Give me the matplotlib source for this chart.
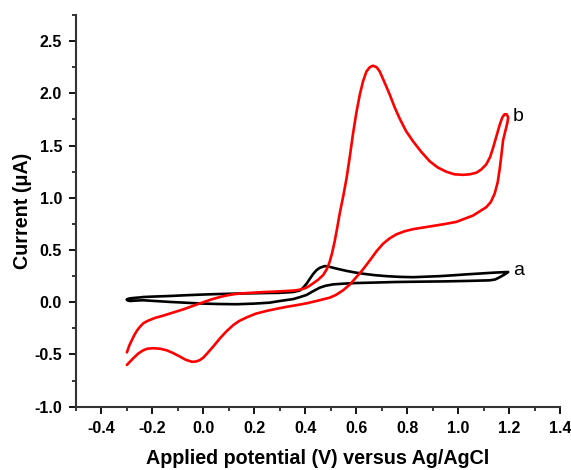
import matplotlib
matplotlib.use("Agg")
import matplotlib.pyplot as plt
from matplotlib.ticker import MultipleLocator

plt.rcParams['font.family'] = ['Liberation Sans', 'DejaVu Sans']

# Curve b (red): forward scan then reverse scan
x_b = [-0.30, -0.29, -0.28, -0.27, -0.26, -0.249, -0.235, -0.22, -0.21, -0.19, -0.16, -0.131, -0.10,
       -0.075, -0.053, -0.03, -0.01, 0.01, 0.035, 0.065, 0.091, 0.12, 0.15, 0.195, 0.24, 0.28, 0.326,
       0.355, 0.378, 0.40, 0.415, 0.43, 0.45, 0.47, 0.485, 0.496, 0.505, 0.515, 0.525, 0.535, 0.55,
       0.562, 0.575, 0.587, 0.60, 0.614, 0.627, 0.64, 0.653, 0.666, 0.68, 0.692, 0.71, 0.731, 0.75,
       0.77, 0.795, 0.823, 0.855, 0.888, 0.92, 0.953, 0.985, 1.019, 1.045, 1.071, 1.09, 1.11, 1.125,
       1.137, 1.15, 1.163, 1.173, 1.182, 1.19, 1.196,
       1.193, 1.186, 1.176, 1.17, 1.163, 1.155, 1.143, 1.128, 1.11, 1.084, 1.058, 1.025, 0.993, 0.95,
       0.90, 0.86, 0.823, 0.79, 0.757, 0.73, 0.705, 0.68, 0.653, 0.625, 0.60, 0.575, 0.548, 0.52,
       0.496, 0.457, 0.405, 0.365, 0.326, 0.288, 0.248, 0.205, 0.169, 0.14, 0.117, 0.09, 0.065, 0.04,
       0.015, 0.0, -0.015, -0.03, -0.045, -0.07, -0.092, -0.12, -0.144, -0.17, -0.197, -0.22,
       -0.236, -0.255, -0.275, -0.30]
y_b = [-0.48, -0.41, -0.36, -0.31, -0.27, -0.235, -0.20, -0.18, -0.17, -0.15, -0.13, -0.108, -0.085,
       -0.065, -0.045, -0.025, -0.008, 0.01, 0.03, 0.05, 0.065, 0.077, 0.085, 0.092, 0.098, 0.102, 0.108,
       0.112, 0.12, 0.135, 0.155, 0.18, 0.215, 0.26, 0.32, 0.39, 0.47, 0.58, 0.71, 0.85, 1.03,
       1.19, 1.40, 1.61, 1.81, 1.99, 2.12, 2.21, 2.25, 2.265, 2.25, 2.21, 2.11, 1.99, 1.87,
       1.76, 1.64, 1.54, 1.44, 1.35, 1.29, 1.25, 1.225, 1.22, 1.225, 1.24, 1.27, 1.32, 1.39,
       1.48, 1.59, 1.70, 1.77, 1.80, 1.80, 1.77,
       1.72, 1.65, 1.55, 1.42, 1.28, 1.15, 1.04, 0.96, 0.91, 0.87, 0.83, 0.80, 0.77, 0.75,
       0.73, 0.715, 0.70, 0.68, 0.65, 0.61, 0.56, 0.49, 0.40, 0.31, 0.24, 0.17, 0.114, 0.07,
       0.044, 0.02, -0.01, -0.028, -0.044, -0.062, -0.083, -0.11, -0.146, -0.18, -0.219, -0.28, -0.346, -0.42,
       -0.49, -0.53, -0.555, -0.568, -0.57, -0.55, -0.52, -0.485, -0.46, -0.445, -0.44, -0.445,
       -0.46, -0.49, -0.536, -0.60]

# Curve a (black)
x_a = [-0.30, -0.295, -0.288, -0.27, -0.25, -0.236, -0.20, -0.131, -0.06, 0.0, 0.065, 0.13, 0.20,
       0.26, 0.30, 0.352, 0.378, 0.39, 0.405, 0.418, 0.43, 0.443, 0.457, 0.476, 0.49, 0.509, 0.535,
       0.562, 0.595, 0.627, 0.67, 0.718, 0.77, 0.823, 0.875, 0.927, 0.98, 1.032, 1.085, 1.137, 1.17,
       1.196,
       1.185, 1.163, 1.145, 1.124, 1.05, 0.953, 0.85, 0.757, 0.68, 0.60, 0.55, 0.509, 0.48, 0.457,
       0.43, 0.405, 0.38, 0.352, 0.30, 0.26, 0.20, 0.13, 0.065, 0.0, -0.065, -0.131, -0.19, -0.236,
       -0.265, -0.288, -0.298, -0.30]
y_a = [0.025, 0.033, 0.037, 0.042, 0.046, 0.05, 0.054, 0.06, 0.068, 0.074, 0.079, 0.083, 0.086,
       0.089, 0.09, 0.098, 0.112, 0.135, 0.178, 0.225, 0.268, 0.305, 0.33, 0.346, 0.343, 0.33, 0.315,
       0.30, 0.285, 0.273, 0.26, 0.25, 0.243, 0.24, 0.245, 0.25, 0.258, 0.267, 0.275, 0.283, 0.287,
       0.29,
       0.27, 0.24, 0.218, 0.21, 0.205, 0.20, 0.197, 0.194, 0.189, 0.184, 0.178, 0.171, 0.158, 0.14,
       0.105, 0.07, 0.05, 0.03, 0.012, -0.004, -0.013, -0.019, -0.017, -0.013, -0.005, 0.003, 0.012, 0.019,
       0.016, 0.012, 0.018, 0.025]

fig = plt.figure(figsize=(5.71, 4.70), dpi=100)
ax = fig.add_axes([0.133, 0.1347, 0.848, 0.8333])

ax.plot(x_a, y_a, color='black', lw=1.9, solid_joinstyle='round', solid_capstyle='round')
ax.plot(x_b, y_b, color='#ff0000', lw=1.9, solid_joinstyle='round', solid_capstyle='round')

ax.text(1.215, 0.30, 'a', fontsize=14, ha='left', va='center')
ax.text(1.215, 1.78, 'b', fontsize=14, ha='left', va='center')

ax.set_xlim(-0.5, 1.4)
ax.set_ylim(-1.0, 2.75)
ax.xaxis.set_minor_locator(MultipleLocator(0.1))
ax.yaxis.set_minor_locator(MultipleLocator(0.25))
ax.set_xticks([-0.4, -0.2, 0.0, 0.2, 0.4, 0.6, 0.8, 1.0, 1.2, 1.4])
ax.set_xticklabels(['-0.4', '-0.2', '0.0', '0.2', '0.4', '0.6', '0.8', '1.0', '1.2', '1.4'])
ax.set_yticks([-1.0, -0.5, 0.0, 0.5, 1.0, 1.5, 2.0, 2.5])
ax.set_yticklabels(['-1.0', '-0.5', '0.0', '0.5', '1.0', '1.5', '2.0', '2.5'])

for s in ['top', 'right']:
    ax.spines[s].set_visible(False)
for s in ['left', 'bottom']:
    ax.spines[s].set_linewidth(1.5)
    ax.spines[s].set_color('#333333')

ax.tick_params(which='major', direction='out', length=5, width=1.3, labelsize=11.5, pad=5)
ax.tick_params(which='minor', direction='out', length=3, width=1.1)
for lab in ax.get_xticklabels() + ax.get_yticklabels():
    lab.set_fontweight('bold')

ax.set_xlabel('Applied potential (V) versus Ag/AgCl', fontsize=14.2, fontweight='bold', labelpad=10)
ax.set_ylabel('Current (μA)', fontsize=14.2, fontweight='bold', labelpad=2)

fig.savefig('out.png', dpi=100)
